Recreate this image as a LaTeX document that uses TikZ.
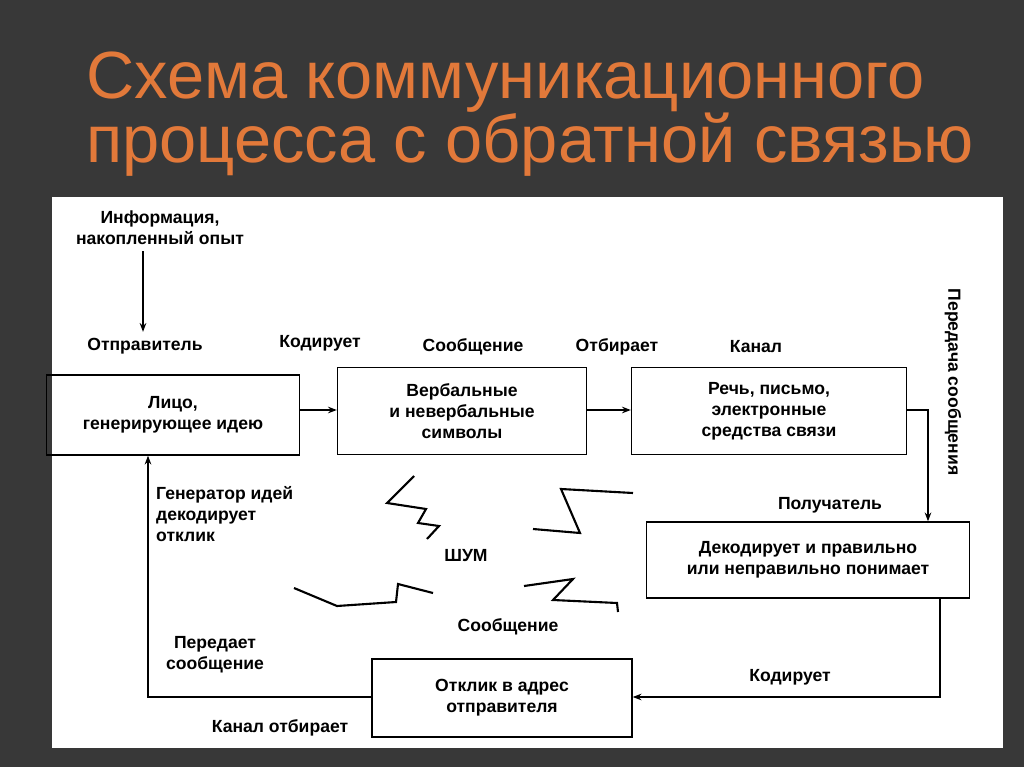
\documentclass[tikz,border=0pt]{standalone}
\usepackage{fontspec}
\setmainfont{Liberation Sans}
\usetikzlibrary{arrows.meta}
\definecolor{titleorange}{HTML}{E2793A}
\definecolor{bgdark}{HTML}{383838}
\newcommand{\px}{0.02cm}

\begin{document}
\begin{tikzpicture}[x=\px, y=-\px,
    box/.style={draw, thick, rectangle, inner sep=0pt, font=\bfseries, align=center},
    lbl/.style={font=\bfseries, align=center},
    flow/.style={thick, -{Stealth[length=5pt]}},
    noise/.style={very thick, line join=miter}]
    \useasboundingbox (0,0) rectangle (1024,767);
    \fill[bgdark] (0,0) rectangle (1024,767);
    \fill[white] (52,197) rectangle (1003,748);
    % Title
    \node[text=titleorange, anchor=west, font=\fontsize{38}{42}\selectfont] (title-1) at (80,82) {Схема коммуникационного};
    \node[text=titleorange, anchor=west, font=\fontsize{38}{42}\selectfont] (title-2) at (80,145) {процесса с обратной связью};
    % Boxes
    \node[box, minimum width=253*\px, minimum height=80*\px] (sender) at (173,415) {Лицо,\\генерирующее идею};
    \node[box, minimum width=249*\px, minimum height=87*\px] (symbols) at (462,411) {Вербальные\\и невербальные\\символы};
    \node[box, minimum width=275*\px, minimum height=87*\px] (channel) at (769,411) {Речь, письмо,\\электронные\\средства связи};
    \node[box, minimum width=323*\px, minimum height=76*\px] (receiver) at (808,560) {Декодирует и правильно\\или неправильно понимает};
    \node[box, minimum width=260*\px, minimum height=78*\px] (response) at (502,698) {Отклик в адрес\\отправителя};
    % Labels
    \node[lbl] (info) at (160,228) {Информация,\\накопленный опыт};
    \node[lbl] (l-sender) at (145,346) {Отправитель};
    \node[lbl] (l-encode) at (320,343) {Кодирует};
    \node[lbl] (l-msg) at (473,347) {Сообщение};
    \node[lbl] (l-select) at (617,347) {Отбирает};
    \node[lbl] (l-channel) at (756,347) {Канал};
    \node[lbl, rotate=-90] (l-transfer) at (953,382) {Передача сообщения};
    \node[lbl] (l-receiver) at (830,505) {Получатель};
    \node[lbl] (l-encode2) at (790,677) {Кодирует};
    \node[lbl] (l-send) at (215,655) {Передает\\сообщение};
    \node[lbl] (l-chsel) at (280,728) {Канал отбирает};
    \node[lbl, align=left, anchor=north west] (l-gen) at (150,480) {Генератор идей\\декодирует\\отклик};
    \node[lbl] (l-noise) at (466,556) {ШУМ};
    \node[lbl] (l-msg2) at (508,627) {Сообщение};
    % Connectors
    \draw[flow] (info.south -| 143,0) -- (l-sender.north -| 143,0);
    \draw[flow] (sender.east |- 0,410) -- (symbols.west |- 0,410);
    \draw[flow] (symbols.east |- 0,410) -- (channel.west |- 0,410);
    \draw[flow] (channel.east |- 0,410) -| (receiver.north -| 928,0);
    \draw[flow] (receiver.south -| 940,0) |- (response.east |- 0,697);
    \draw[flow] (response.west |- 0,697) -| (sender.south -| 148,0);
    % Noise
    \draw[noise] (414,476) -- (387,503) -- (426,509) -- (418,523) -- (439,526) -- (427,539);
    \draw[noise] (633,493) -- (561,489) -- (580,533) -- (533,529);
    \draw[noise] (294,588) -- (337,606) -- (396,602) -- (398,584) -- (433,593);
    \draw[noise] (524,586) -- (573,579) -- (553,600) -- (617,603) -- (618,612);
\end{tikzpicture}
\end{document}
